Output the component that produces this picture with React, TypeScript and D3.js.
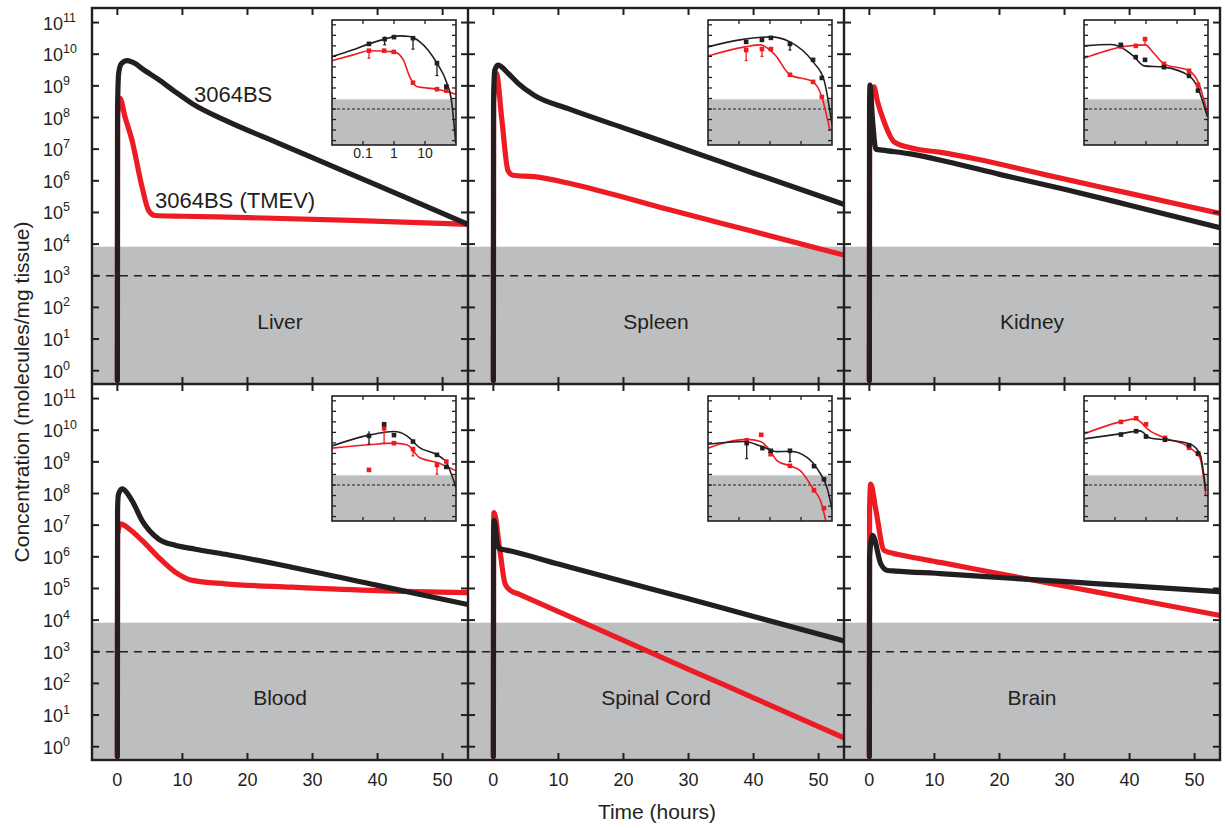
import * as d3 from 'd3';

// [hour, molecules/mg tissue]
type Pt = [number, number];
// [hour, value, low, high]
type Obs = [number, number, number, number];

const panelNames = ['Liver', 'Spleen', 'Kidney', 'Blood', 'Spinal Cord', 'Brain'];
const timeTicks = [0, 10, 20, 30, 40, 50];
const decades = [0, 1, 2, 3, 4, 5, 6, 7, 8, 9, 10, 11];
const insetTicks = [0.1, 1, 10];
const insetTickLabels = ['0.1', '1', '10'];
const limitOfDetection = 1e3;
const greyTop = 8.3e3;

// model curves, main panels
const liverBlack: Pt[] = [[0, 0.5], [0.03, 2e8], [0.2, 2.5e9], [0.6, 5e9], [1.5, 6.3e9], [2.8, 5e9], [3.8, 3.5e9], [6.3, 1.6e9], [8.9, 6.5e8], [11.5, 2.75e8], [16.6, 8.1e7], [25, 1.48e7], [35, 1.95e6], [45, 2.6e5], [53.9, 4.2e4]];
const liverRed: Pt[] = [[0, 0.5], [0.03, 1e8], [0.4, 4e8], [1.2, 1e8], [2.25, 1.9e7], [3.8, 6.3e5], [4.8, 1.15e5], [5.8, 8e4], [10, 7.6e4], [20, 6.9e4], [36, 5.6e4], [53.9, 4.2e4]];
const spleenBlack: Pt[] = [[0, 0.5], [0.03, 3e8], [0.2, 3e9], [0.7, 4.5e9], [2.25, 2.5e9], [3.8, 1.2e9], [6.3, 5e8], [11.5, 1.9e8], [20, 4.7e7], [30, 9.1e6], [40, 1.74e6], [53.9, 1.8e5]];
const spleenRed: Pt[] = [[0, 0.5], [0.03, 3e8], [0.46, 2.5e9], [1.3, 8.7e7], [2.25, 2.1e6], [3, 1.5e6], [6.3, 1.35e6], [11.5, 8.5e5], [16.6, 4.7e5], [26.8, 1.26e5], [40, 2.5e4], [53.9, 4.5e3]];
const kidneyBlack: Pt[] = [[0, 0.5], [0.03, 3e8], [0.1, 1.05e9], [0.46, 1e8], [1, 1e7], [2, 9.3e6], [6.3, 7.1e6], [12, 4e6], [20, 1.6e6], [30, 5.4e5], [40, 1.7e5], [53.9, 3.3e4]];
const kidneyRed: Pt[] = [[0, 0.5], [0.03, 2e8], [0.7, 9.3e8], [1.2, 3.5e8], [2.2, 8e7], [3.8, 1.7e7], [6.3, 1.1e7], [11, 7.9e6], [16.6, 4.8e6], [26.8, 1.6e6], [40, 4e5], [53.9, 9.3e4]];
const bloodBlack: Pt[] = [[0, 0.5], [0.03, 3e7], [0.15, 9e7], [0.7, 1.4e8], [2.25, 6e7], [3.8, 1.4e7], [6.3, 3.7e6], [8.9, 2.3e6], [12, 1.74e6], [16.6, 1.2e6], [26.8, 4.7e5], [40, 1.25e5], [53.9, 3.1e4]];
const bloodRed: Pt[] = [[0, 0.5], [0.03, 5e6], [0.5, 1.1e7], [1.75, 7.8e6], [3.8, 3.3e6], [6.3, 9.8e5], [8.9, 3.3e5], [11.5, 1.8e5], [16.6, 1.4e5], [26.8, 1.1e5], [40, 8.5e4], [53.9, 7.4e4]];
const spinalBlack: Pt[] = [[0, 0.5], [0.03, 5e6], [0.15, 1.4e7], [0.6, 2.5e6], [1, 1.8e6], [2, 1.63e6], [10, 5.9e5], [20, 1.66e5], [30, 4.7e4], [40, 1.3e4], [53.9, 2.2e3]];
const spinalRed: Pt[] = [[0, 0.5], [0.03, 1e7], [0.1, 2.5e7], [1, 1.6e6], [1.8, 1.4e5], [2.6, 8.7e4], [4, 6.5e4], [10, 1.86e4], [20, 2.3e3], [30, 280], [40, 35], [53.9, 1.9]];
const brainBlack: Pt[] = [[0, 0.5], [0.03, 1e6], [0.5, 4.8e6], [1.75, 6e5], [2.8, 3.7e5], [4, 3.55e5], [11.5, 2.9e5], [21.7, 2.1e5], [32, 1.55e5], [42, 1.15e5], [53.9, 7.9e4]];
const brainRed: Pt[] = [[0, 0.5], [0.03, 3e7], [0.2, 2e8], [1, 3e7], [2.25, 1.6e6], [3.8, 1.26e6], [5, 1.12e6], [11.5, 6.3e5], [21.7, 2.5e5], [32, 1e5], [42, 4.1e4], [53.9, 1.4e4]];

// model curves, insets (log time)
const liverBlackIn: Pt[] = [[0.01, 9.5e7], [0.048, 4.2e8], [0.156, 1.55e9], [0.5, 4.4e9], [1.5, 8.9e9], [3.2, 7.8e9], [6.7, 2.6e9], [24.3, 2.3e7], [48.8, 4e5], [71, 7.4e3], [98, 0.6]];
const liverRedIn: Pt[] = [[0.01, 4e7], [0.048, 1.4e8], [0.16, 3.5e8], [1, 2.7e8], [2, 4.7e7], [3.2, 1.2e6], [5.4, 1.35e5], [24.3, 7.6e4], [100, 2.6e4]];
const spleenBlackIn: Pt[] = [[0.01, 8e8], [0.107, 3.7e9], [1, 7.2e9], [4.4, 2.4e9], [24.5, 3e7], [55, 5.9e5], [100, 30]];
const spleenRedIn: Pt[] = [[0.01, 1.1e8], [0.156, 8e8], [0.48, 1.26e9], [1.45, 1.4e8], [4.4, 1.8e6], [24.5, 3.8e5], [47, 1.4e4], [85, 10]];
const kidneyBlackIn: Pt[] = [[0.01, 1e9], [0.072, 1.35e9], [0.15, 8e8], [0.41, 9.5e7], [0.86, 1.26e7], [3.8, 9.5e6], [24.4, 1.4e6], [45, 1.35e5], [95, 190]];
const kidneyRedIn: Pt[] = [[0.01, 6.8e7], [0.044, 2.9e8], [0.19, 8.7e8], [0.93, 1.26e9], [1.8, 2e8], [3.8, 1.95e7], [24.4, 4.3e6], [51, 2.5e5], [95, 400]];
const bloodBlackIn: Pt[] = [[0.01, 5.2e6], [0.156, 5.5e7], [1, 1.2e8], [2.6, 4.7e7], [6.7, 3.6e6], [24.3, 7.4e5], [48.8, 1.35e5], [100, 575]];
const bloodRedIn: Pt[] = [[0.01, 3.2e6], [0.156, 6.6e6], [1, 9.5e6], [2.6, 6.6e6], [6.7, 4.1e5], [24.3, 1.35e5], [100, 2.2e4]];
const spinalBlackIn: Pt[] = [[0.01, 7.6e6], [0.145, 1.35e7], [0.5, 5.2e6], [1.7, 1.5e6], [4.4, 1.6e6], [16, 4e5], [34, 3.2e4], [74, 275], [100, 5]];
const spinalRedIn: Pt[] = [[0.01, 3.2e6], [0.177, 2.2e7], [0.5, 1.35e7], [0.93, 2.5e6], [1.7, 2e5], [4.4, 6.6e4], [9.6, 2.2e4], [26.3, 320], [43, 31], [63, 0.4]];
const brainBlackIn: Pt[] = [[0.01, 2.4e7], [0.145, 7.2e7], [0.64, 1.4e8], [1.34, 3e7], [4.1, 2e7], [26, 8e6], [55, 9e5], [85, 270]];
const brainRedIn: Pt[] = [[0.01, 7.2e7], [0.145, 1e9], [0.44, 1.95e9], [1.34, 1.4e8], [4.1, 3e7], [26, 3.4e6], [55, 3.8e5], [85, 93]];

// measured points, insets
const liverBlackObs: Obs[] = [[0.156, 1.55e9, 1.2e9, 2e9], [0.5, 4.4e9, 1.25e9, 7.8e9], [1, 6.8e9, 6.8e9, 6.8e9], [4.1, 5.4e9, 4.9e8, 5.4e9], [24.3, 2.3e7, 1.5e6, 2.3e7], [48.8, 1.35e5, 1e5, 1.8e5]];
const liverRedObs: Obs[] = [[0.156, 3.5e8, 6.8e7, 5e8], [0.48, 3.5e8, 3.5e8, 3.5e8], [0.98, 2.7e8, 2.7e8, 2.7e8], [4.1, 3.2e5, 3.2e5, 3.2e5], [24.3, 7.6e4, 7.6e4, 7.6e4], [48.8, 5.6e4, 5.6e4, 5.6e4]];
const spleenBlackObs: Obs[] = [[0.17, 2.4e9, 2.4e9, 2.4e9], [0.55, 3.7e9, 3.7e9, 3.7e9], [1.07, 5.8e9, 5.8e9, 5.8e9], [4.4, 1.55e9, 4e8, 1.55e9], [24.5, 4.7e7, 4.7e7, 4.7e7], [47, 9e5, 9e5, 9e5]];
const spleenRedObs: Obs[] = [[0.17, 4e8, 4e7, 4e8], [0.55, 5e8, 1e8, 5e8], [1.07, 5e8, 5e8, 5e8], [4.4, 1.8e6, 1.8e6, 1.8e6], [24.5, 3.8e5, 3.8e5, 3.8e5], [47, 1.4e4, 1.4e4, 1.4e4]];
const kidneyBlackObs: Obs[] = [[0.153, 1.26e9, 1.26e9, 1.26e9], [0.466, 8.5e7, 8.5e7, 8.5e7], [0.93, 4.7e7, 4.7e7, 4.7e7], [3.8, 9.5e6, 9.5e6, 9.5e6], [24.4, 1.4e6, 1.4e6, 1.4e6], [47.6, 5.6e4, 5.6e4, 5.6e4]];
const kidneyRedObs: Obs[] = [[0.16, 8.7e8, 8.7e8, 8.7e8], [0.47, 1e9, 1e9, 1e9], [0.93, 4.4e9, 1.26e9, 4.4e9], [3.8, 1.95e7, 1.95e7, 1.95e7], [24.4, 4.3e6, 2.5e6, 4.3e6], [47.6, 2e5, 1e5, 2e5]];
const bloodBlackObs: Obs[] = [[0.156, 4.7e7, 7.6e6, 1.3e8], [0.48, 6e8, 6e8, 6e8], [1, 5.5e7, 5.5e7, 5.5e7], [4.1, 1.35e7, 1.35e7, 1.35e7], [24.3, 7.4e5, 7.4e5, 7.4e5], [48.8, 5.2e4, 5.2e4, 5.2e4]];
const bloodRedObs: Obs[] = [[0.156, 2.75e4, 2.75e4, 2.75e4], [0.48, 2.5e8, 9.5e6, 2.5e8], [1, 9.5e6, 9.5e6, 9.5e6], [4.1, 2.6e6, 5.9e5, 2.6e6], [24.3, 8.1e4, 1.07e4, 8.1e4], [48.8, 1.7e5, 1.7e5, 1.7e5]];
const spinalBlackObs: Obs[] = [[0.177, 9.5e6, 3.2e5, 9.5e6], [0.57, 3.2e6, 3.2e6, 3.2e6], [1.05, 1.8e6, 1.8e6, 1.8e6], [4.4, 1.8e6, 1.7e5, 1.8e6], [26.3, 6.2e4, 6.2e4, 6.2e4], [55, 3.5e3, 3.5e3, 3.5e3]];
const spinalRedObs: Obs[] = [[0.177, 1.8e7, 1.8e7, 1.8e7], [0.52, 5.9e7, 5.9e7, 5.9e7], [1.05, 8.5e5, 8.5e5, 8.5e5], [4.4, 6.6e4, 6.6e4, 6.6e4], [26.3, 320, 320, 320], [55, 6.3, 6.3, 6.3]];
const brainBlackObs: Obs[] = [[0.156, 6.3e7, 6.3e7, 6.3e7], [0.48, 1.3e8, 1.3e8, 1.3e8], [1, 4e7, 4e7, 4e7], [4.1, 2e7, 2e7, 2e7], [24.4, 6e6, 6e6, 6e6], [48, 1e6, 1e6, 1e6]];
const brainRedObs: Obs[] = [[0.156, 1e9, 1e9, 1e9], [0.48, 2.2e9, 2.2e9, 2.2e9], [1, 6e8, 6e8, 6e8], [4.1, 3e7, 3e7, 3e7], [24.4, 3.4e6, 3.4e6, 3.4e6], [48, 9e5, 9e5, 9e5]];

const mainCurves = [
  [liverRed, liverBlack], [spleenRed, spleenBlack], [kidneyRed, kidneyBlack],
  [bloodRed, bloodBlack], [spinalRed, spinalBlack], [brainRed, brainBlack],
];
const insetCurves = [
  [liverRedIn, liverBlackIn], [spleenRedIn, spleenBlackIn], [kidneyRedIn, kidneyBlackIn],
  [bloodRedIn, bloodBlackIn], [spinalRedIn, spinalBlackIn], [brainRedIn, brainBlackIn],
];
const insetObs = [
  [liverRedObs, liverBlackObs], [spleenRedObs, spleenBlackObs], [kidneyRedObs, kidneyBlackObs],
  [bloodRedObs, bloodBlackObs], [spinalRedObs, spinalBlackObs], [brainRedObs, brainBlackObs],
];

const BLACK = '#231f20';
const RED = '#ed1c24';
const GREY = '#bcbec0';
const FONT = '"Liberation Sans", Arial, Helvetica, sans-serif';

const left0 = 92;
const top0 = 8;
const pw = 376;
const ph = 376;
const tick = 7;

function Panel({ idx }: { idx: number }) {
  const col = idx % 3;
  const row = Math.floor(idx / 3);
  const px = left0 + col * pw;
  const py = top0 + row * ph;

  const x = d3.scaleLinear().domain([-3.9, 53.9]).range([px, px + pw]);
  const y = d3.scaleLog().domain([Math.pow(10, -0.42), Math.pow(10, 11.46)]).range([py + ph, py]);

  const ix0 = px + 240;
  const iy0 = py + 12;
  const iw = 124;
  const ih = 125;
  const ix = d3.scaleLog().domain([0.01, 100]).range([ix0, ix0 + iw]);
  const iy = d3.scaleLog().domain([Math.pow(10, -0.42), Math.pow(10, 11.46)]).range([iy0 + ih, iy0]);

  const line = d3.line<Pt>().x(d => x(d[0])).y(d => y(d[1])).curve(d3.curveMonotoneX);
  const iline = d3.line<Pt>().x(d => ix(d[0])).y(d => iy(d[1])).curve(d3.curveMonotoneX);

  const colors = [RED, BLACK];

  return (
    <g>
      <defs>
        <clipPath id={'clip' + idx}>
          <rect x={px} y={py} width={pw} height={ph} />
        </clipPath>
        <clipPath id={'iclip' + idx}>
          <rect x={ix0} y={iy0} width={iw} height={ih} />
        </clipPath>
      </defs>

      {/* detection band */}
      <rect x={px} y={y(greyTop)} width={pw} height={py + ph - y(greyTop)} fill={GREY} />
      <line x1={px} x2={px + pw} y1={y(limitOfDetection)} y2={y(limitOfDetection)}
        stroke={BLACK} strokeWidth={1.4} strokeDasharray="8,6" />

      <g clipPath={`url(#clip${idx})`}>
        {mainCurves[idx].map((c, k) => (
          <path key={k} d={line(c) || ''} fill="none" stroke={colors[k]} strokeWidth={5.2}
            strokeLinecap="round" strokeLinejoin="round" />
        ))}
      </g>

      {/* y ticks, both sides, inward */}
      {decades.map(e => (
        <g key={'yt' + e}>
          <line x1={px} x2={px + tick} y1={y(Math.pow(10, e))} y2={y(Math.pow(10, e))} stroke={BLACK} strokeWidth={2} />
          <line x1={px + pw - tick} x2={px + pw} y1={y(Math.pow(10, e))} y2={y(Math.pow(10, e))} stroke={BLACK} strokeWidth={2} />
        </g>
      ))}
      {timeTicks.map(t => (
        <g key={'xt' + t}>
          <line x1={x(t)} x2={x(t)} y1={py} y2={py + tick} stroke={BLACK} strokeWidth={2} />
          <line x1={x(t)} x2={x(t)} y1={py + ph - tick} y2={py + ph} stroke={BLACK} strokeWidth={2} />
        </g>
      ))}

      <text x={px + pw / 2} y={py + 321} textAnchor="middle" fontSize={21} fill={BLACK} fontFamily={FONT}>
        {panelNames[idx]}
      </text>

      {/* inset */}
      <rect x={ix0} y={iy0} width={iw} height={ih} fill="#fff" />
      <rect x={ix0} y={iy(greyTop)} width={iw} height={iy0 + ih - iy(greyTop)} fill={GREY} />
      <line x1={ix0} x2={ix0 + iw} y1={iy(limitOfDetection)} y2={iy(limitOfDetection)}
        stroke={BLACK} strokeWidth={1.1} strokeDasharray="3,2" />
      <g clipPath={`url(#iclip${idx})`}>
        {insetCurves[idx].map((c, k) => (
          <path key={k} d={iline(c) || ''} fill="none" stroke={colors[k]} strokeWidth={1.6} />
        ))}
        {insetObs[idx].map((set, k) => (
          <g key={'o' + k} fill={colors[k]} stroke={colors[k]}>
            {set.map((o, j) => (
              <g key={j}>
                <line x1={ix(o[0])} x2={ix(o[0])} y1={iy(o[2])} y2={iy(o[3])} strokeWidth={1.3} />
                <line x1={ix(o[0]) - 1.5} x2={ix(o[0]) + 1.5} y1={iy(o[2])} y2={iy(o[2])} strokeWidth={1.2} />
                <rect x={ix(o[0]) - 2.3} y={iy(o[1]) - 2.3} width={4.6} height={4.6} stroke="none" />
              </g>
            ))}
          </g>
        ))}
      </g>
      {decades.map(e => (
        <g key={'iyt' + e}>
          <line x1={ix0} x2={ix0 + 4} y1={iy(Math.pow(10, e))} y2={iy(Math.pow(10, e))} stroke={BLACK} strokeWidth={1.3} />
          <line x1={ix0 + iw - 4} x2={ix0 + iw} y1={iy(Math.pow(10, e))} y2={iy(Math.pow(10, e))} stroke={BLACK} strokeWidth={1.3} />
        </g>
      ))}
      {insetTicks.map(t => (
        <g key={'ixt' + t}>
          <line x1={ix(t)} x2={ix(t)} y1={iy0} y2={iy0 + 4} stroke={BLACK} strokeWidth={1.3} />
          <line x1={ix(t)} x2={ix(t)} y1={iy0 + ih - 4} y2={iy0 + ih} stroke={BLACK} strokeWidth={1.3} />
        </g>
      ))}
      <rect x={ix0} y={iy0} width={iw} height={ih} fill="none" stroke={BLACK} strokeWidth={1.6} />
      {idx === 0 && insetTicks.map((t, k) => (
        <text key={'ixl' + t} x={ix(t)} y={iy0 + ih + 13} textAnchor="middle" fontSize={14} fill={BLACK} fontFamily={FONT}>
          {insetTickLabels[k]}
        </text>
      ))}

      {/* y tick labels on the left column */}
      {col === 0 && decades.map(e => (
        <text key={'yl' + e} x={43} y={y(Math.pow(10, e)) + 7} fontSize={18} fill={BLACK} fontFamily={FONT}>
          10<tspan dy={-8} fontSize={12.5}>{e}</tspan>
        </text>
      ))}
      {row === 1 && timeTicks.map(t => (
        <text key={'xl' + t} x={x(t)} y={py + ph + 26} textAnchor="middle" fontSize={18} fill={BLACK} fontFamily={FONT}>
          {t}
        </text>
      ))}

      {idx === 0 && (
        <g fontSize={22} fill={BLACK} fontFamily={FONT}>
          <text x={194} y={102}>3064BS</text>
          <text x={155} y={208}>3064BS (TMEV)</text>
        </g>
      )}
    </g>
  );
}

export default function App() {
  return (
    <svg width={1225} height={828} style={{ position: 'absolute', left: 0, top: 0, background: '#fff' }}>
      <rect width={1225} height={828} fill="#fff" />
      {panelNames.map((_, i) => <Panel key={i} idx={i} />)}
      {/* outer frame and dividers */}
      <rect x={left0} y={top0} width={pw * 3} height={ph * 2} fill="none" stroke={BLACK} strokeWidth={2.4} />
      {[1, 2].map(c => (
        <line key={'v' + c} x1={left0 + c * pw} x2={left0 + c * pw} y1={top0} y2={top0 + ph * 2} stroke={BLACK} strokeWidth={2.4} />
      ))}
      <line x1={left0} x2={left0 + pw * 3} y1={top0 + ph} y2={top0 + ph} stroke={BLACK} strokeWidth={2.4} />

      <text x={657} y={819} textAnchor="middle" fontSize={21} fill={BLACK} fontFamily={FONT}>Time (hours)</text>
      <text transform="translate(29,392) rotate(-90)" textAnchor="middle" fontSize={21} fill={BLACK} fontFamily={FONT}>
        Concentration (molecules/mg tissue)
      </text>
    </svg>
  );
}
